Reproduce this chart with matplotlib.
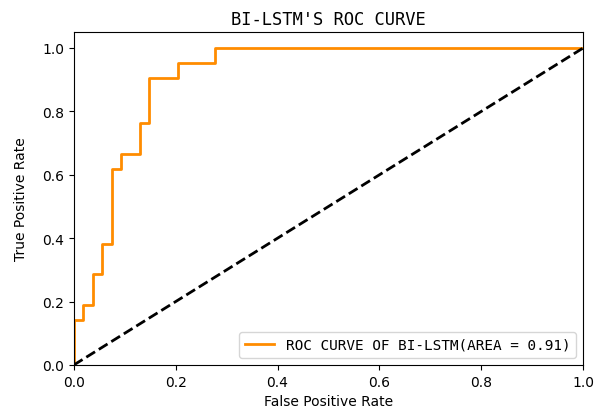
import matplotlib
matplotlib.use("Agg")
from matplotlib import pyplot as plt

# ROC curve corner points (fpr, tpr) for Bi-LSTM
fpr = [0, 0, 1/54, 1/54, 2/54, 2/54, 3/54, 3/54, 4/54, 4/54, 5/54, 5/54,
       7/54, 7/54, 8/54, 8/54, 11/54, 11/54, 15/54, 15/54, 1]
tpr = [0, 3/21, 3/21, 4/21, 4/21, 6/21, 6/21, 8/21, 8/21, 13/21, 13/21, 14/21,
       14/21, 16/21, 16/21, 19/21, 19/21, 20/21, 20/21, 1, 1]
roc_auc = 0.91
chance = [0, 1]

# half-width gothic look: monospaced sans
mono = ['DejaVu Sans Mono', 'Noto Sans CJK JP']

fig = plt.figure(figsize=(6, 4.14), dpi=100)
ax = fig.add_axes([0.123, 0.116, 0.849, 0.804])
ax.plot(fpr, tpr, color='darkorange', lw=2,
        label='ROC CURVE OF BI-LSTM(AREA = %0.2f)' % roc_auc)
ax.plot(chance, chance, color='black', lw=2, linestyle='--')
ax.set_xlim(0.0, 1.0)
ax.set_ylim(0.0, 1.05)
ax.set_xlabel('False Positive Rate')
ax.set_ylabel('True Positive Rate', labelpad=10)
ax.set_title("BI-LSTM'S ROC CURVE", family=mono, fontsize=12.3)
ax.legend(loc='lower right', prop={'family': mono, 'size': 10.4})
fig.savefig('out.png', dpi=100)
